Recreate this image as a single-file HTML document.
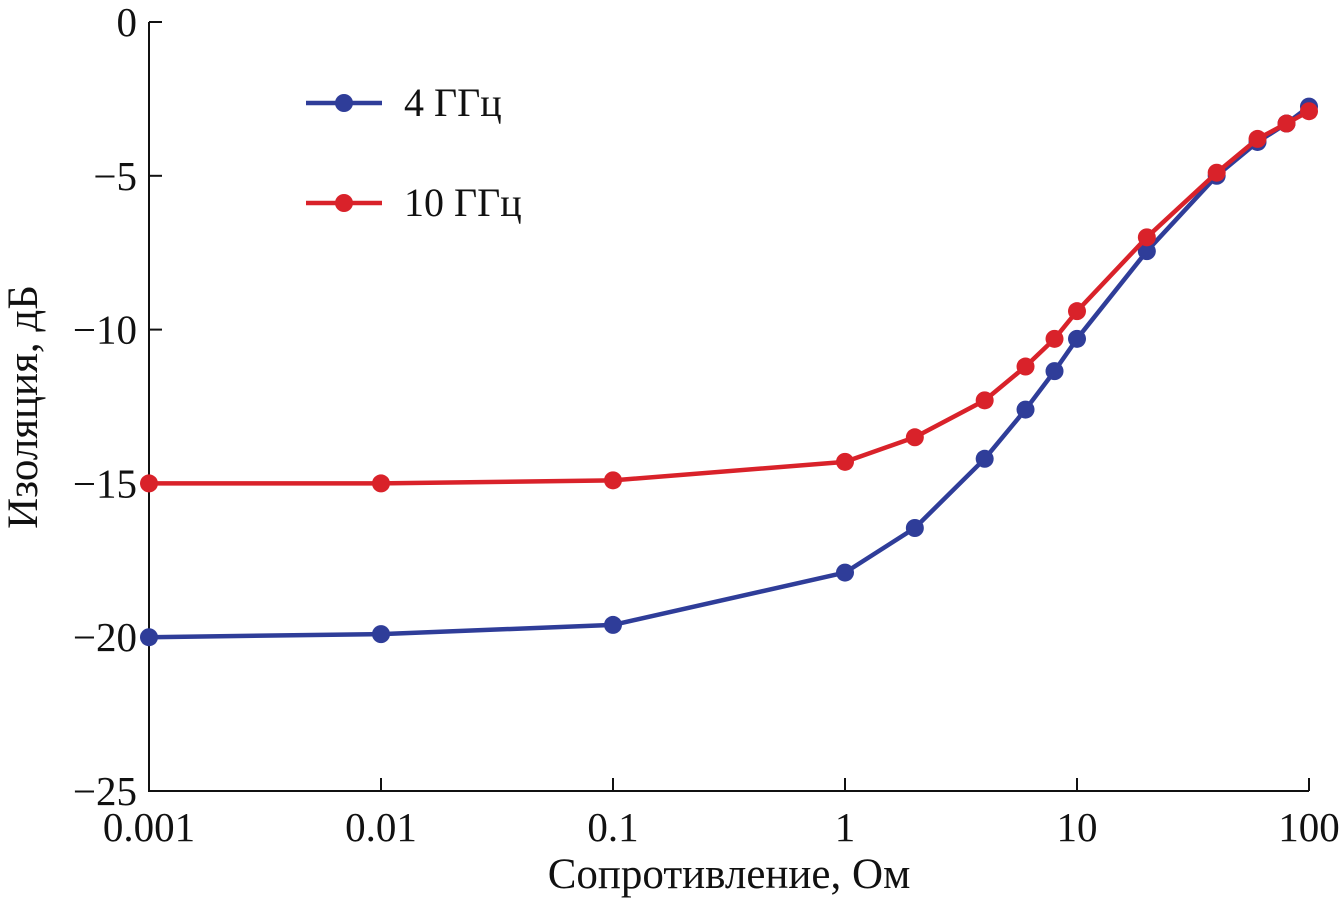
<!DOCTYPE html>
<html><head><meta charset="utf-8"><style>
body{margin:0;background:#fff}
svg text{font-family:"Liberation Serif",serif;fill:#111}
</style></head><body>
<svg id="chart" width="1339" height="901" viewBox="0 0 1339 901" xmlns="http://www.w3.org/2000/svg"></svg>
<script>
const xCats=[0.001,0.01,0.1,1,2,4,6,8,10,20,40,60,80,100];
const blueVals=[-20,-19.9,-19.6,-17.9,-16.45,-14.2,-12.6,-11.35,-10.3,-7.45,-5.0,-3.9,-3.3,-2.75];
const redVals=[-15,-15,-14.9,-14.3,-13.5,-12.3,-11.2,-10.3,-9.4,-7.0,-4.9,-3.8,-3.3,-2.9];
const xTicks=[0.001,0.01,0.1,1,10,100];
const xTickLabels=["0.001","0.01","0.1","1","10","100"];
const yTicks=[0,-5,-10,-15,-20,-25];
const yTickLabels=["0","\u22125","\u221210","\u221215","\u221220","\u221225"];
const NS="http://www.w3.org/2000/svg";
const svg=document.getElementById('chart');
const X0=149,X1=1309,Y0=22,Y1=791;
function xs(v){return X0+(Math.log10(v)+3)/5*(X1-X0);}
function ys(v){return Y0+(-v)/25*(Y1-Y0);}
function mk(t,a,p){const e=document.createElementNS(NS,t);for(const k in a)e.setAttribute(k,a[k]);(p||svg).appendChild(e);return e;}
let ax=mk('path',{d:`M${X0},${Y0}V${Y1}H${X1}`,stroke:'#111','stroke-width':2,fill:'none'});


yTicks.forEach((t,i)=>{const y=ys(t);
 let l=mk('line',{x1:X0,x2:X0+13,y1:y,y2:y,stroke:'#111','stroke-width':2});
 
 
 let tx=mk('text',{x:X0-12,y:y+14,'text-anchor':'end','font-size':41});tx.textContent=yTickLabels[i];
 
 });
xTicks.forEach((t,i)=>{const x=xs(t);
 let l=mk('line',{x1:x,x2:x,y1:Y1,y2:Y1-13,stroke:'#111','stroke-width':2});
 
 
 let tx=mk('text',{x:x,y:841,'text-anchor':'middle','font-size':41});tx.textContent=xTickLabels[i];
 
 });
let xt=mk('text',{x:729,y:888,'text-anchor':'middle','font-size':43});xt.textContent='Сопротивление, Ом';


let yt=mk('text',{x:0,y:0,'text-anchor':'middle','font-size':43,transform:'translate(37,407) rotate(-90)'});yt.textContent='Изоляция, дБ';


function series(vals,col,name){
 let g=mk('g',{});
 
 
 mk('polyline',{points:vals.map((v,i)=>xs(xCats[i])+','+ys(v)).join(' '),fill:'none',stroke:col,'stroke-width':4.5,'stroke-linejoin':'round'},g);
 vals.forEach((v,i)=>{let c=mk('circle',{cx:xs(xCats[i]),cy:ys(v),r:9,fill:col},g);
  
  });
}
series(blueVals,'#2f3d99','series-4ghz');
series(redVals,'#d9222a','series-10ghz');
[[103,'#2f3d99','4 ГГц','legend-entry-4ghz'],[203,'#d9222a','10 ГГц','legend-entry-10ghz']].forEach(e=>{
 let g=mk('g',{});
 
 
 mk('line',{x1:306,x2:382,y1:e[0],y2:e[0],stroke:e[1],'stroke-width':4.5},g);
 mk('circle',{cx:344,cy:e[0],r:9,fill:e[1]},g);
 let t=mk('text',{x:404,y:e[0]+13,'font-size':40},g);t.textContent=e[2];
});
</script>
</body></html>
